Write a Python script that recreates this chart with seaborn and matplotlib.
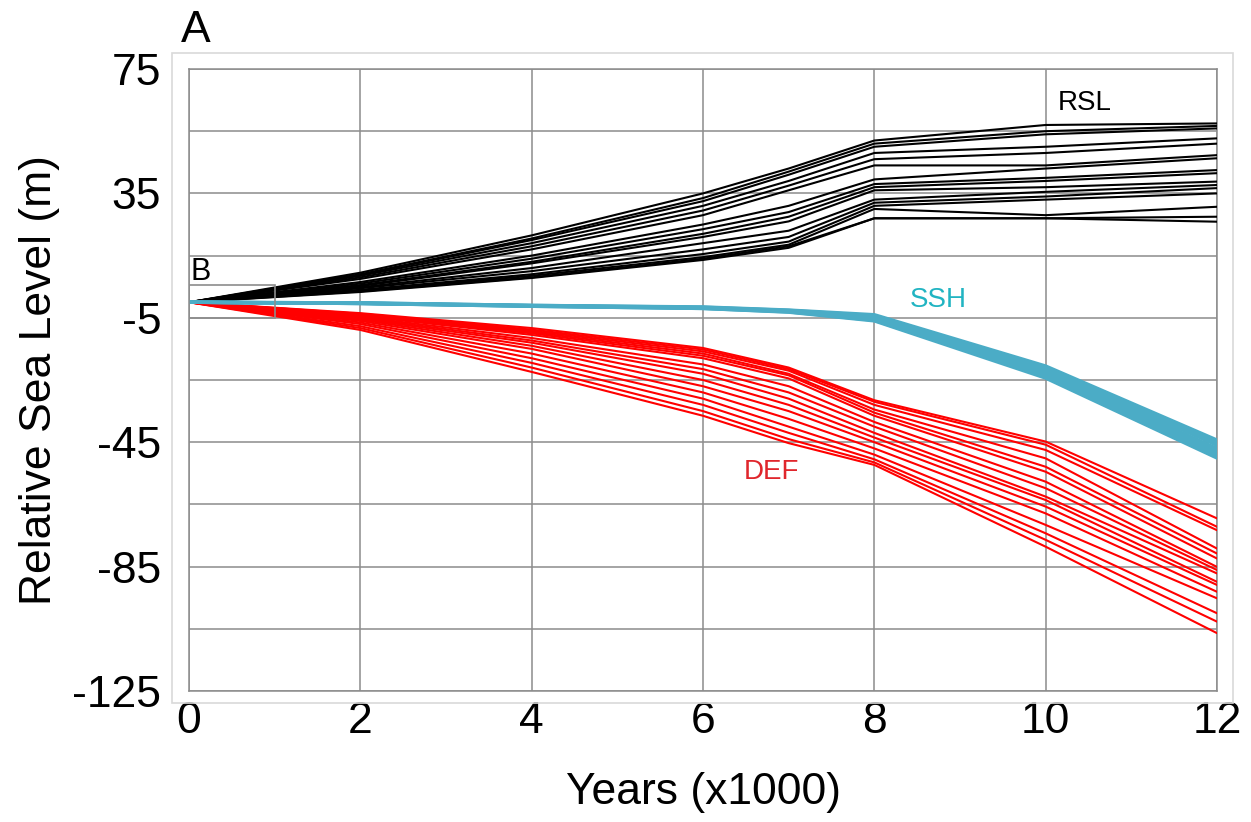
import numpy as np
import pandas as pd
import matplotlib
matplotlib.use("Agg")
import matplotlib.pyplot as plt
from matplotlib.patches import Rectangle
import seaborn as sns

# ---------------- data ----------------
years = [0, 2, 4, 6, 7, 8, 10, 12]

rsl_runs = [
    [0, 9.5, 21.5, 35.0, 43.0, 52.0, 57.0, 57.5],
    [0, 9.0, 20.5, 33.5, 42.0, 51.0, 55.0, 56.7],
    [0, 8.8, 20.0, 32.5, 41.0, 50.0, 54.0, 55.9],
    [0, 8.5, 19.0, 31.0, 39.0, 48.0, 50.0, 52.7],
    [0, 8.0, 18.0, 29.5, 37.5, 46.0, 48.0, 51.0],
    [0, 7.5, 17.0, 28.0, 36.0, 44.0, 44.0, 47.3],
    [0, 6.5, 15.0, 25.0, 31.0, 39.5, 43.0, 46.3],
    [0, 6.0, 14.0, 23.5, 29.0, 38.0, 40.0, 42.5],
    [0, 5.5, 13.0, 22.0, 27.5, 37.0, 39.0, 41.5],
    [0, 5.2, 12.5, 21.0, 26.0, 36.0, 37.0, 38.8],
    [0, 4.8, 11.0, 19.0, 23.0, 33.0, 35.5, 37.7],
    [0, 4.5, 10.0, 17.0, 21.0, 32.0, 34.0, 36.7],
    [0, 4.0, 9.0, 15.5, 19.5, 31.0, 33.0, 35.0],
    [0, 3.8, 8.5, 14.5, 18.5, 30.0, 28.0, 30.7],
    [0, 3.5, 8.0, 14.0, 18.0, 27.0, 27.0, 27.5],
    [0, 3.3, 7.8, 13.6, 17.5, 27.0, 27.0, 25.9],
]

def_runs = [
    [0, -3.5, -8.3, -14.7, -21.0, -31.5, -44.8, -69.5],
    [0, -3.7, -8.8, -15.2, -21.5, -32.0, -45.8, -72.2],
    [0, -3.8, -9.2, -15.8, -22.0, -33.0, -47.5, -73.3],
    [0, -4.0, -9.6, -16.5, -23.0, -34.5, -50.2, -79.2],
    [0, -4.2, -10.0, -17.2, -23.5, -35.5, -52.9, -80.8],
    [0, -4.4, -10.5, -18.0, -24.5, -36.5, -54.5, -82.4],
    [0, -4.7, -11.5, -20.0, -27.0, -38.5, -57.7, -85.1],
    [0, -5.0, -12.3, -21.5, -29.0, -40.0, -59.8, -86.1],
    [0, -5.3, -13.0, -23.0, -31.0, -42.0, -62.5, -87.2],
    [0, -5.6, -14.0, -25.0, -33.0, -43.5, -63.6, -89.9],
    [0, -6.0, -15.0, -27.0, -35.0, -45.0, -65.7, -90.9],
    [0, -6.5, -16.5, -29.0, -37.5, -47.0, -67.9, -93.1],
    [0, -7.0, -18.0, -31.0, -40.0, -49.0, -71.6, -95.2],
    [0, -7.7, -19.5, -33.0, -42.0, -50.5, -74.3, -100.0],
    [0, -8.3, -21.0, -35.0, -44.0, -51.5, -76.4, -102.7],
    [0, -8.9, -22.4, -36.5, -45.3, -52.3, -78.6, -106.4],
]

ssh_runs = [
    [0, -0.2, -1.0, -1.5, -2.5, -4.0, -20.5, -44.3],
    [0, -0.2, -1.0, -1.6, -2.6, -4.3, -21.0, -45.2],
    [0, -0.3, -1.1, -1.7, -2.7, -4.6, -21.6, -46.0],
    [0, -0.3, -1.1, -1.8, -2.8, -4.9, -22.2, -47.0],
    [0, -0.3, -1.2, -1.8, -2.9, -5.2, -22.8, -47.8],
    [0, -0.4, -1.2, -1.9, -3.0, -5.5, -23.4, -48.6],
    [0, -0.4, -1.3, -2.0, -3.1, -5.8, -24.0, -49.4],
    [0, -0.4, -1.3, -2.0, -3.2, -6.0, -24.4, -50.1],
]

series_names = ["RSL", "DEF", "SSH"]
series_colors = ["#000000", "#FF0000", "#4BACC6"]

y_ticks_labeled = [75, 35, -5, -45, -85, -125]
x_ticks = [0, 2, 4, 6, 8, 10, 12]

# ---------------- long table ----------------
rows = []
for name, runs in zip(series_names, [rsl_runs, def_runs, ssh_runs]):
    for i, run in enumerate(runs):
        for x, v in zip(years, run):
            rows.append({"year": x, "value": v, "series": name, "run": f"{name}{i}"})
df = pd.DataFrame(rows)

# ---------------- figure ----------------
sns.set_theme(style="white")
plt.rcParams["font.family"] = ["Liberation Sans", "DejaVu Sans"]
plt.rcParams["text.color"] = "black"
plt.rcParams["axes.labelcolor"] = "black"

fig = plt.figure(figsize=(12.51, 8.22), dpi=100)
ax = fig.add_axes([189 / 1251, 1 - 691 / 822, (1217 - 189) / 1251, (691 - 69) / 822])

# outer light frame (chart area border)
fig.patches.append(Rectangle((172 / 1251, 1 - 703 / 822), (1233 - 172) / 1251, (703 - 53) / 822,
                             transform=fig.transFigure, fill=False, edgecolor="#d9d9d9",
                             linewidth=1.2, zorder=0))

palette = dict(zip(series_names, series_colors))
for name, lw in zip(series_names, [1.5, 1.5, 2.4]):
    sub = df[df["series"] == name]
    sns.lineplot(data=sub, x="year", y="value", units="run", estimator=None,
                 color=palette[name], linewidth=lw, ax=ax, legend=False, zorder=3)

ax.set_xlim(0, 12)
ax.set_ylim(-125, 75)
ax.set_xticks(x_ticks)
ax.set_xticklabels([str(t) for t in x_ticks])
yt = list(range(-125, 76, 20))
ax.set_yticks(yt)
ax.set_yticklabels([str(t) if t in y_ticks_labeled else "" for t in yt])
ax.grid(True, color="#8c8c8c", linewidth=1.1, zorder=0)
ax.set_axisbelow(True)
for sp in ax.spines.values():
    sp.set_color("#8c8c8c")
    sp.set_linewidth(1.1)
ax.tick_params(axis="both", length=0, labelsize=32, colors="black")
ax.tick_params(axis="y", pad=20)
ax.tick_params(axis="x", pad=7)

ax.set_xlabel("Years (x1000)", fontsize=32, labelpad=22, color="black")
ax.set_ylabel("Relative Sea Level (m)", fontsize=32, labelpad=9, color="black")

# inset marker box B
ax.add_patch(Rectangle((0, -5), 1, 10.5, fill=False, edgecolor="#8c8c8c", linewidth=1.2, zorder=4))
ax.text(0.02, 5.0, "B", fontsize=22, ha="left", va="bottom", color="black")

ax.text(10.45, 64, "RSL", fontsize=20, ha="center", va="center", color="black")
ax.text(8.75, 0.6, "SSH", fontsize=20, ha="center", va="center", color="#21B4C2")
ax.text(6.8, -54.6, "DEF", fontsize=20, ha="center", va="center", color="#E0262C")

fig.text(196 / 1251, 1 - 30 / 822, "A", fontsize=32, ha="center", va="center", color="black")

fig.savefig("out.png", dpi=100, facecolor="white")
